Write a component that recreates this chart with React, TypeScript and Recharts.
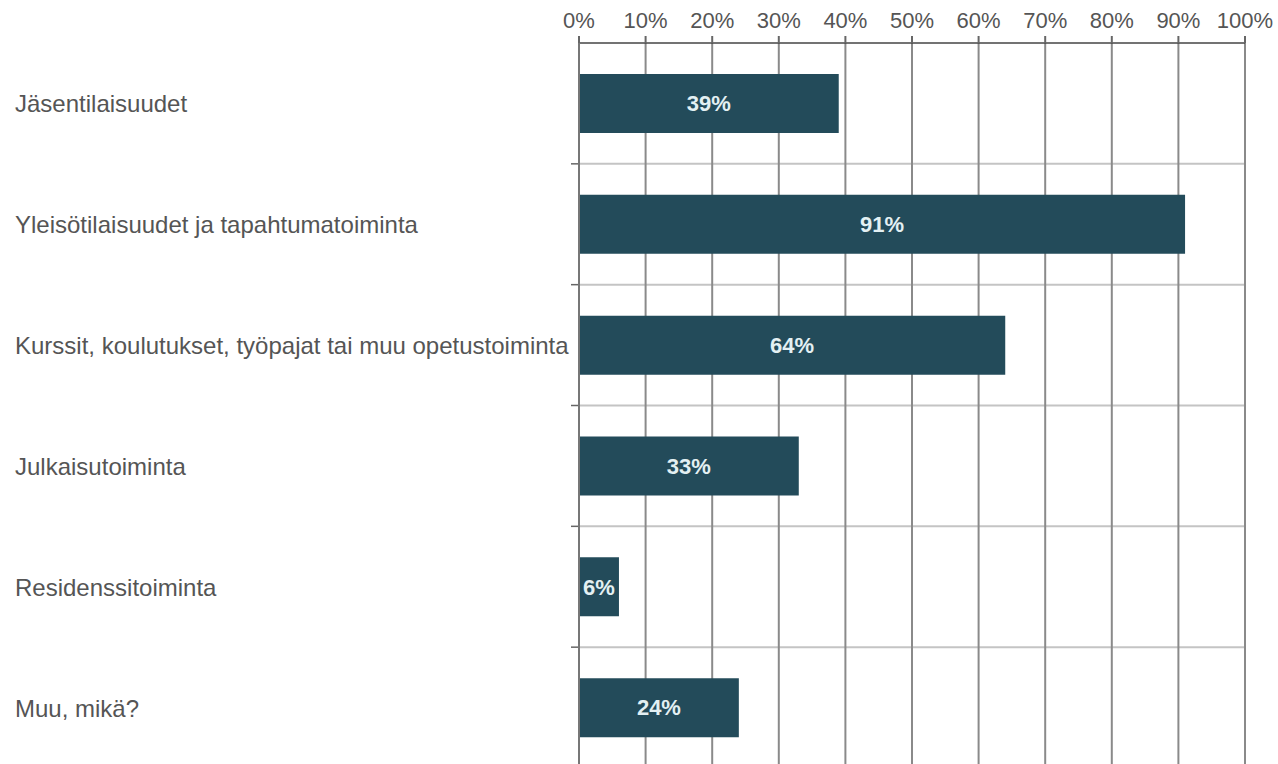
import React from 'react';
import { BarChart, Bar, XAxis, YAxis, CartesianGrid, LabelList } from 'recharts';

const categories = [
  'Jäsentilaisuudet',
  'Yleisötilaisuudet ja tapahtumatoiminta',
  'Kurssit, koulutukset, työpajat tai muu opetustoiminta',
  'Julkaisutoiminta',
  'Residenssitoiminta',
  'Muu, mikä?',
];
const values = [39, 91, 64, 33, 6, 24];
const xTicks = [0, 10, 20, 30, 40, 50, 60, 70, 80, 90, 100];

const data = categories.map((name, i) => ({ name, value: values[i] }));

const FONT = '"Liberation Sans", Arial, sans-serif';

const CategoryTick = (props: any) => {
  const { y, payload } = props;
  return (
    <text x={15} y={y} dy={9} textAnchor="start" fontFamily={FONT} fontSize={24} fill="#555">
      {payload.value}
    </text>
  );
};

const boundaries = (n: number) => ({ offset }: any) => {
  const out: number[] = [];
  for (let i = 1; i < n; i++) out.push(offset.top + (i * offset.height) / n);
  return out;
};

export default function App() {
  return (
    <div style={{ position: 'absolute', left: 0, top: 0 }}>
      <BarChart
        width={1278}
        height={790}
        data={data}
        layout="vertical"
        margin={{ top: 0, right: 33, bottom: 22, left: 0 }}
        barCategoryGap={31}
      >
        <CartesianGrid
          vertical={false}
          stroke="#c4c4c4"
          strokeWidth={2}
          horizontalCoordinatesGenerator={boundaries(categories.length)}
        />
        <CartesianGrid
          horizontal={false}
          stroke="#8a8a8a"
          strokeWidth={2}
        />
        <CartesianGrid
          vertical={false}
          x={571}
          width={8}
          stroke="#666"
          strokeWidth={1.5}
          horizontalCoordinatesGenerator={boundaries(categories.length)}
        />
        <XAxis
          type="number"
          orientation="top"
          domain={[0, 100]}
          ticks={xTicks}
          tickFormatter={(v: number) => `${v}%`}
          height={43}
          axisLine={{ stroke: '#444', strokeWidth: 1.5 }}
          tickLine={{ stroke: '#666', strokeWidth: 2 }}
          tickSize={7}
          tickMargin={8}
          interval={0}
          tick={{ fontFamily: FONT, fontSize: 22, fill: '#555' }}
        />
        <YAxis
          type="category"
          dataKey="name"
          width={579}
          axisLine={{ stroke: '#777', strokeWidth: 2 }}
          tickLine={false}
          tick={<CategoryTick />}
          interval={0}
        />
        <Bar dataKey="value" fill="#234b5a" isAnimationActive={false}>
          <LabelList
            dataKey="value"
            position="center"
            formatter={(v: any) => `${v}%`}
            fill="#e3f0f3"
            fontFamily={FONT}
            fontSize={22}
            fontWeight="bold"
          />
        </Bar>
      </BarChart>
    </div>
  );
}
